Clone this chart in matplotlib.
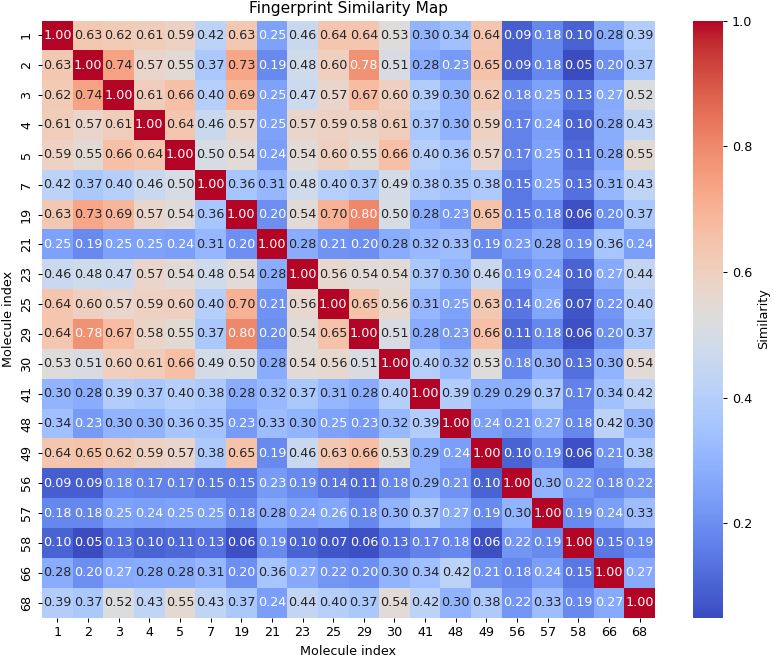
import numpy as np
import pandas as pd
import seaborn as sns
import matplotlib
matplotlib.use("Agg")
import matplotlib.pyplot as plt

# molecule indices shown on both axes
labels = [1, 2, 3, 4, 5, 7, 19, 21, 23, 25, 29, 30, 41, 48, 49, 56, 57, 58, 66, 68]

# pairwise fingerprint similarity
sim = [
    [1.00, 0.63, 0.62, 0.61, 0.59, 0.42, 0.63, 0.25, 0.46, 0.64, 0.64, 0.53, 0.30, 0.34, 0.64, 0.09, 0.18, 0.10, 0.28, 0.39],
    [0.63, 1.00, 0.74, 0.57, 0.55, 0.37, 0.73, 0.19, 0.48, 0.60, 0.78, 0.51, 0.28, 0.23, 0.65, 0.09, 0.18, 0.05, 0.20, 0.37],
    [0.62, 0.74, 1.00, 0.61, 0.66, 0.40, 0.69, 0.25, 0.47, 0.57, 0.67, 0.60, 0.39, 0.30, 0.62, 0.18, 0.25, 0.13, 0.27, 0.52],
    [0.61, 0.57, 0.61, 1.00, 0.64, 0.46, 0.57, 0.25, 0.57, 0.59, 0.58, 0.61, 0.37, 0.30, 0.59, 0.17, 0.24, 0.10, 0.28, 0.43],
    [0.59, 0.55, 0.66, 0.64, 1.00, 0.50, 0.54, 0.24, 0.54, 0.60, 0.55, 0.66, 0.40, 0.36, 0.57, 0.17, 0.25, 0.11, 0.28, 0.55],
    [0.42, 0.37, 0.40, 0.46, 0.50, 1.00, 0.36, 0.31, 0.48, 0.40, 0.37, 0.49, 0.38, 0.35, 0.38, 0.15, 0.25, 0.13, 0.31, 0.43],
    [0.63, 0.73, 0.69, 0.57, 0.54, 0.36, 1.00, 0.20, 0.54, 0.70, 0.80, 0.50, 0.28, 0.23, 0.65, 0.15, 0.18, 0.06, 0.20, 0.37],
    [0.25, 0.19, 0.25, 0.25, 0.24, 0.31, 0.20, 1.00, 0.28, 0.21, 0.20, 0.28, 0.32, 0.33, 0.19, 0.23, 0.28, 0.19, 0.36, 0.24],
    [0.46, 0.48, 0.47, 0.57, 0.54, 0.48, 0.54, 0.28, 1.00, 0.56, 0.54, 0.54, 0.37, 0.30, 0.46, 0.19, 0.24, 0.10, 0.27, 0.44],
    [0.64, 0.60, 0.57, 0.59, 0.60, 0.40, 0.70, 0.21, 0.56, 1.00, 0.65, 0.56, 0.31, 0.25, 0.63, 0.14, 0.26, 0.07, 0.22, 0.40],
    [0.64, 0.78, 0.67, 0.58, 0.55, 0.37, 0.80, 0.20, 0.54, 0.65, 1.00, 0.51, 0.28, 0.23, 0.66, 0.11, 0.18, 0.06, 0.20, 0.37],
    [0.53, 0.51, 0.60, 0.61, 0.66, 0.49, 0.50, 0.28, 0.54, 0.56, 0.51, 1.00, 0.40, 0.32, 0.53, 0.18, 0.30, 0.13, 0.30, 0.54],
    [0.30, 0.28, 0.39, 0.37, 0.40, 0.38, 0.28, 0.32, 0.37, 0.31, 0.28, 0.40, 1.00, 0.39, 0.29, 0.29, 0.37, 0.17, 0.34, 0.42],
    [0.34, 0.23, 0.30, 0.30, 0.36, 0.35, 0.23, 0.33, 0.30, 0.25, 0.23, 0.32, 0.39, 1.00, 0.24, 0.21, 0.27, 0.18, 0.42, 0.30],
    [0.64, 0.65, 0.62, 0.59, 0.57, 0.38, 0.65, 0.19, 0.46, 0.63, 0.66, 0.53, 0.29, 0.24, 1.00, 0.10, 0.19, 0.06, 0.21, 0.38],
    [0.09, 0.09, 0.18, 0.17, 0.17, 0.15, 0.15, 0.23, 0.19, 0.14, 0.11, 0.18, 0.29, 0.21, 0.10, 1.00, 0.30, 0.22, 0.18, 0.22],
    [0.18, 0.18, 0.25, 0.24, 0.25, 0.25, 0.18, 0.28, 0.24, 0.26, 0.18, 0.30, 0.37, 0.27, 0.19, 0.30, 1.00, 0.19, 0.24, 0.33],
    [0.10, 0.05, 0.13, 0.10, 0.11, 0.13, 0.06, 0.19, 0.10, 0.07, 0.06, 0.13, 0.17, 0.18, 0.06, 0.22, 0.19, 1.00, 0.15, 0.19],
    [0.28, 0.20, 0.27, 0.28, 0.28, 0.31, 0.20, 0.36, 0.27, 0.22, 0.20, 0.30, 0.34, 0.42, 0.21, 0.18, 0.24, 0.15, 1.00, 0.27],
    [0.39, 0.37, 0.52, 0.43, 0.55, 0.43, 0.37, 0.24, 0.44, 0.40, 0.37, 0.54, 0.42, 0.30, 0.38, 0.22, 0.33, 0.19, 0.27, 1.00],
]

df = pd.DataFrame(np.array(sim), index=labels, columns=labels)

W, H = 774, 657
DPI = 92
fig = plt.figure(figsize=(W / DPI, H / DPI), dpi=DPI)
# heatmap and colorbar placed to match the reference layout (pixels)
ax = fig.add_axes([42 / W, 39.5 / H, 613 / W, 597 / H])
cax = fig.add_axes([693 / W, 39.5 / H, 30 / W, 597 / H])

sns.heatmap(df, annot=True, fmt=".2f", cmap="coolwarm", ax=ax, cbar_ax=cax,
            cbar_kws={"label": "Similarity"})
ax.set_title("Fingerprint Similarity Map")
ax.set_xlabel("Molecule index")
ax.set_ylabel("Molecule index")

fig.savefig("out.png", dpi=DPI)
